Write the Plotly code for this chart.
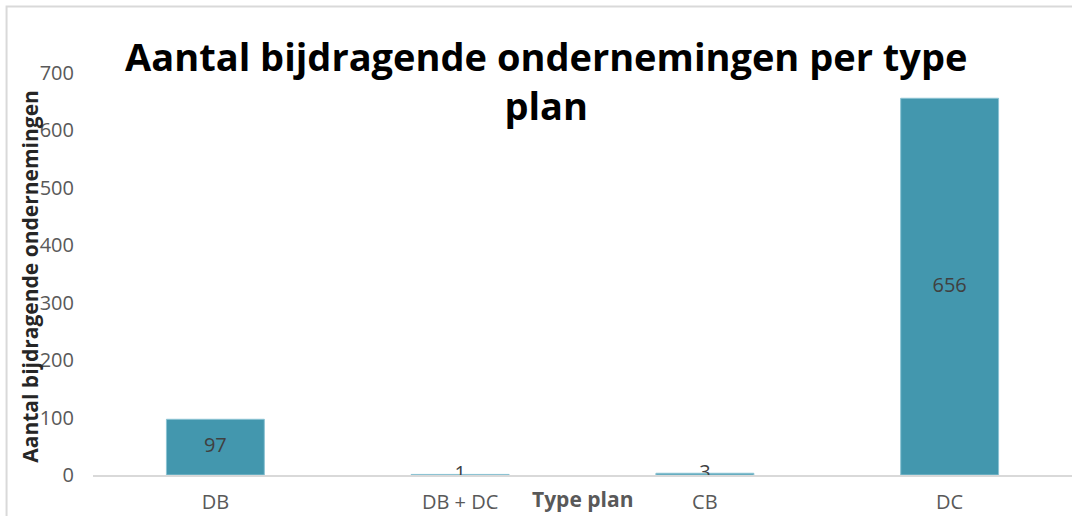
import plotly.graph_objects as go

categories = ["DB", "DB + DC", "CB", "DC"]
values = [97, 1, 3, 656]
y_ticks = [0, 100, 200, 300, 400, 500, 600, 700]

title_text = "Aantal bijdragende ondernemingen per type<br>plan"
y_title = "Aantal bijdragende ondernemingen"
x_title = "Type plan"

FONT = "Open Sans"
BAR = "#4397AE"

fig = go.Figure()
fig.add_trace(go.Bar(
    x=categories, y=values,
    marker=dict(color=BAR, line=dict(color="#8cc3d3", width=1)),
    hoverinfo="x+y", showlegend=False,
))
fig.add_trace(go.Scatter(
    x=categories, y=[v / 2 for v in values],
    text=[str(v) for v in values], mode="text",
    textfont=dict(family=FONT, size=20, color="#404040"),
    textposition="middle center", showlegend=False, hoverinfo="skip",
))

L, R, T, B = 92.5, 0, 72.5, 41
W, H = 1072, 516
pw = W - L - R
ph = H - T - B

def px_x(p):
    return (p - L) / pw

def px_y(p):
    return (H - B - p) / ph

fig.update_layout(
    width=W, height=H,
    margin=dict(l=L, r=R, t=T, b=B, pad=0),
    paper_bgcolor="white", plot_bgcolor="white",
    bargap=0.6,
    font=dict(family=FONT, color="#595959"),
    title=dict(text=title_text, x=px_x(546), xanchor="center", xref="paper",
               y=1 - 71 / H, yanchor="top",
               font=dict(family=FONT, size=38, color="black", weight="bold")),
    xaxis=dict(showgrid=False, showline=True, linecolor="#D9D9D9", linewidth=2,
               ticks="", tickfont=dict(family=FONT, size=20, color="#595959"),
               ticklabelstandoff=8, zeroline=False),
    yaxis=dict(range=[0, 700], tickvals=y_ticks, showgrid=False, showline=False,
               zeroline=False, ticks="",
               tickfont=dict(family=FONT, size=20, color="#595959"),
               ticklabelstandoff=18),
    shapes=[dict(type="rect", xref="paper", yref="paper",
                 x0=px_x(6), x1=px_x(1090), y0=px_y(540), y1=px_y(6),
                 line=dict(color="#D9D9D9", width=2), fillcolor="rgba(0,0,0,0)",
                 layer="below")],
    annotations=[
        dict(text=y_title, textangle=-90, xref="paper", yref="paper",
             x=px_x(30), y=px_y(276), showarrow=False, xanchor="center", yanchor="middle",
             font=dict(family=FONT, size=21, color="#262626", weight="bold")),
        dict(text=x_title, xref="paper", yref="paper",
             x=px_x(582), y=px_y(499), showarrow=False, xanchor="center", yanchor="middle",
             font=dict(family=FONT, size=21, color="#595959", weight="bold")),
    ],
)

fig.write_html("out.html", config={"displayModeBar": False},
               post_script="document.body.style.margin='0';document.body.style.overflow='hidden';")
